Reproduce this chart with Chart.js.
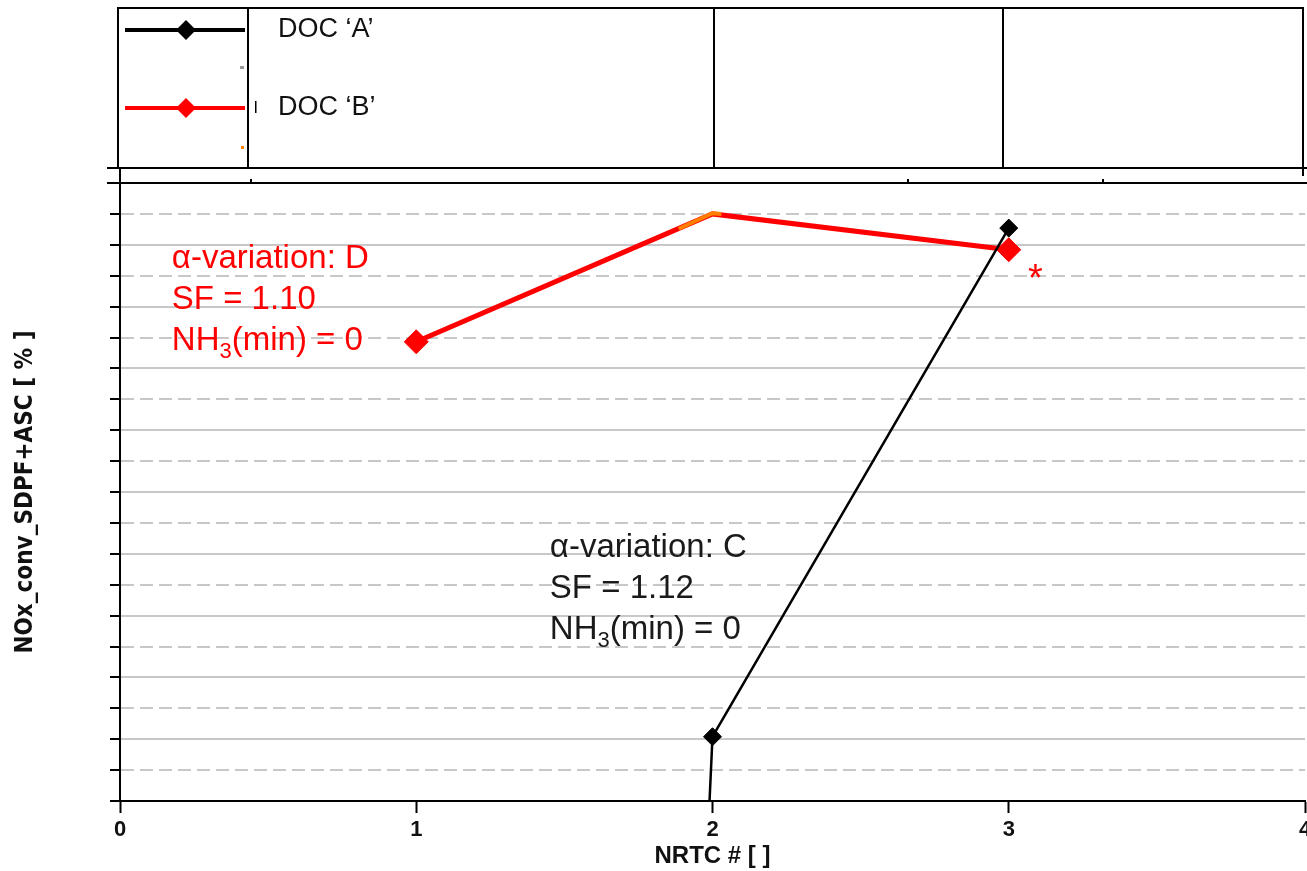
<!DOCTYPE html>
<html>
<head>
<meta charset="utf-8">
<script src="https://cdn.jsdelivr.net/npm/chart.js@4"></script>
<style>
html, body { margin: 0; padding: 0; background: #fff; overflow: hidden; }
#wrap { position: relative; width: 1318px; height: 871px; }
</style>
</head>
<body>
<div id="wrap"><canvas id="nrtcChart"></canvas></div>
<script>
// DOC 'A' (black)
var docA_x = [1.99, 2.0, 3.0];
var docA_y = [0, 10.4, 92.7];
var docA_r = [0, 9, 9];

// DOC 'B' (red)
var docB_x = [1.0, 2.0, 3.0];
var docB_y = [74.3, 95.0, 89.2];
var docB_r = [12, 0, 12];

// small orange trace on the red peak
var docC_x = [1.886, 2.0, 2.03];
var docC_y = [92.6, 95.1, 95.0];

var xTicks = ['0', '1', '2', '3', '4'];
var legendLabels = ['DOC \u2018A\u2019', 'DOC \u2018B\u2019'];

// annotation texts
var noteD = ['\u03b1-variation: D', 'SF = 1.10', 'NH3(min) = 0'];
var noteC = ['\u03b1-variation: C', 'SF = 1.12', 'NH3(min) = 0'];

function toPoints(xs, ys) {
	var out = [];
	for (var i = 0; i < xs.length; i++) out.push({x: xs[i], y: ys[i]});
	return out;
}

function diamond(ctx, x, y, r, color) {
	ctx.beginPath();
	ctx.moveTo(x, y - r);
	ctx.lineTo(x + r, y);
	ctx.lineTo(x, y + r);
	ctx.lineTo(x - r, y);
	ctx.closePath();
	ctx.fillStyle = color;
	ctx.fill();
}

// writes "NH3(min) = 0" with a subscript 3
function noteLine(ctx, txt, x, y) {
	var k = txt.indexOf('NH3');
	if (k < 0) { ctx.fillText(txt, x, y); return; }
	ctx.fillText('NH', x, y);
	var w = ctx.measureText('NH').width;
	var big = ctx.font;
	ctx.font = '22px Arial, "Liberation Sans"';
	ctx.fillText('3', x + w, y + 8);
	var w3 = ctx.measureText('3').width;
	ctx.font = big;
	ctx.fillText(txt.substring(3), x + w + w3, y);
}

var framePlugin = {
	id: 'frame',
	afterDraw: function(chart) {
		var ctx = chart.ctx;
		var a = chart.chartArea;
		var xs = chart.scales.x, ys = chart.scales.y;
		ctx.save();

		// top panel
		ctx.strokeStyle = '#000';
		ctx.lineWidth = 2;
		ctx.strokeRect(118, 8, 1185, 160);
		ctx.beginPath();
		ctx.moveTo(107, 168); ctx.lineTo(1318, 168);
		ctx.moveTo(107, a.top); ctx.lineTo(1318, a.top);
		[248, 714, 1003].forEach(function(px) {
			ctx.moveTo(px, 8); ctx.lineTo(px, 168);
		});
		ctx.moveTo(a.left, 168); ctx.lineTo(a.left, a.top);
		ctx.moveTo(1303, 168); ctx.lineTo(1303, 176);
		[251, 908, 1103].forEach(function(px) {
			ctx.moveTo(px, a.top - 4); ctx.lineTo(px, a.top);
		});
		ctx.stroke();

		// legend
		var ds = chart.data.datasets;
		var rows = [30, 108];
		var legSets = [ds[0], ds[2]];
		for (var i = 0; i < rows.length; i++) {
			var c = legSets[i].borderColor;
			ctx.strokeStyle = c;
			ctx.lineWidth = 4;
			ctx.beginPath();
			ctx.moveTo(125, rows[i]); ctx.lineTo(245, rows[i]);
			ctx.stroke();
			diamond(ctx, 186, rows[i], 10, c);
			ctx.fillStyle = '#111';
			ctx.font = '27px Arial, "Liberation Sans"';
			ctx.textBaseline = 'middle';
			ctx.textAlign = 'left';
			ctx.fillText(legendLabels[i], 278, rows[i]);
		}
		ctx.fillStyle = '#999';
		ctx.fillRect(240, 66, 4, 3);
		ctx.fillStyle = '#ff8000';
		ctx.fillRect(241, 146, 3, 3);
		ctx.fillStyle = '#000';
		ctx.fillRect(255, 101, 1.5, 12);

		// annotations
		ctx.textBaseline = 'alphabetic';
		ctx.textAlign = 'left';
		ctx.font = '33px Arial, "Liberation Sans"';
		ctx.fillStyle = '#ff0000';
		var dx = xs.getPixelForValue(0.175), dy = ys.getPixelForValue(86.2);
		for (var j = 0; j < noteD.length; j++) noteLine(ctx, noteD[j], dx, dy + j * 41);
		ctx.fillStyle = '#1a1a1a';
		var cx = xs.getPixelForValue(1.451), cy = ys.getPixelForValue(39.5);
		for (var m = 0; m < noteC.length; m++) noteLine(ctx, noteC[m], cx, cy + m * 41);

		ctx.fillStyle = '#ff0000';
		ctx.font = '38px Arial, "Liberation Sans"';
		ctx.textAlign = 'center';
		ctx.textBaseline = 'alphabetic';
		ctx.fillText('*', xs.getPixelForValue(3.09), ys.getPixelForValue(82.6));
		ctx.restore();
	}
};

var data = {
	datasets: [{
		label: legendLabels[0],
		data: toPoints(docA_x, docA_y),
		borderColor: '#000000',
		backgroundColor: '#000000',
		borderWidth: 2.5,
		pointStyle: 'rectRot',
		pointRadius: docA_r,
		pointBorderWidth: 1,
		tension: 0
	}, {
		label: 'peak',
		data: toPoints(docC_x, docC_y),
		borderColor: '#ff8000',
		backgroundColor: '#ff8000',
		borderWidth: 4,
		pointRadius: 0,
		tension: 0
	}, {
		label: legendLabels[1],
		data: toPoints(docB_x, docB_y),
		borderColor: '#ff0000',
		backgroundColor: '#ff0000',
		borderWidth: 5,
		pointStyle: 'rectRot',
		pointRadius: docB_r,
		pointBorderWidth: 1,
		tension: 0
	}]
};

var config = {
	type: 'line',
	data: data,
	options: {
		responsive: true,
		maintainAspectRatio: false,
		animation: false,
		layout: { padding: { top: 183, left: 0, right: 0, bottom: 0 } },
		plugins: {
			legend: { display: false },
			tooltip: { enabled: false }
		},
		scales: {
			x: {
				type: 'linear',
				min: 0,
				max: 4,
				ticks: {
					stepSize: 1,
					padding: 4,
					color: '#111',
					font: { family: 'Arial, "Liberation Sans"', size: 22, weight: 'bold' },
					callback: function(v) { return xTicks[v]; }
				},
				grid: {
					drawOnChartArea: false,
					drawTicks: true,
					tickLength: 12,
					tickColor: '#000',
					tickWidth: 2
				},
				border: { color: '#000', width: 2 },
				title: {
					display: true,
					text: 'NRTC # [ ]',
					color: '#111',
					font: { family: 'Arial, "Liberation Sans"', size: 24, weight: 'bold' },
					padding: { top: 0, bottom: 0 }
				},
				afterFit: function(s) { s.height = 70; }
			},
			y: {
				min: 0,
				max: 100,
				ticks: { stepSize: 5, display: false },
				grid: {
					color: '#c8c8c8',
					lineWidth: 2,
					drawTicks: true,
					tickLength: 10,
					tickColor: '#000',
					tickWidth: 2
				},
				border: {
					color: '#000',
					width: 2,
					dash: function(c) {
						return (c.tick && c.tick.value % 10 !== 0) ? [13, 6] : [];
					}
				},
				title: {
					display: true,
					text: 'NOx_conv_SDPF+ASC [ % ]',
					color: '#111',
					font: { family: '"DejaVu Sans Condensed", "DejaVu Sans"', size: 24, weight: 'bold' },
					padding: { top: 11, bottom: 0 }
				},
				afterFit: function(s) { s.width = 120; }
			}
		}
	},
	plugins: [framePlugin]
};

var ctx1 = document.getElementById('nrtcChart').getContext('2d');
new Chart(ctx1, config);
</script>
</body>
</html>
